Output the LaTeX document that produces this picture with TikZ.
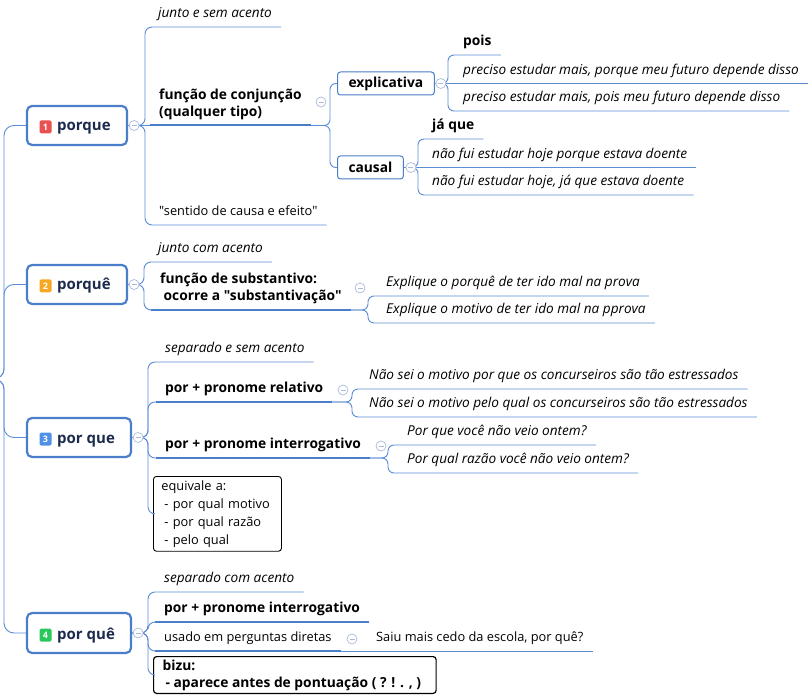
\documentclass[tikz,border=0pt]{standalone}
\usepackage{fontspec}
\setmainfont{Open Sans}[Ligatures=TeXOff]
\usetikzlibrary{calc}
\definecolor{lc}{RGB}{91,141,214}
\definecolor{uc}{RGB}{74,126,201}
\definecolor{bc}{RGB}{74,126,201}
\definecolor{rt}{RGB}{28,42,78}
\definecolor{cc}{RGB}{170,186,218}
\definecolor{kred}{RGB}{232,81,79}
\definecolor{korange}{RGB}{247,168,35}
\definecolor{kblue}{RGB}{80,145,230}
\definecolor{kgreen}{RGB}{40,200,90}
\newcommand\fn{\fontsize{12.8}{17}\selectfont}
\newcommand\fit{\fontsize{13.6}{17}\selectfont\itshape}
\newcommand\fb{\fontsize{13.8}{17}\selectfont\bfseries}
\begin{document}
\begin{tikzpicture}[x=1pt,y=-1pt,
  conn/.style={draw=lc,line width=0.9pt,rounded corners=7pt},
  sconn/.style={conn,rounded corners=6pt},
  thk/.style={draw=uc,line width=2pt},
  topic/.style={anchor=south west,inner xsep=9pt,inner ysep=0pt,text depth=9pt,font=\fn,align=left},
  ittopic/.style={topic,font=\fit},
  bftopic/.style={topic,font=\fb},
  rootbox/.style={draw=bc,line width=2.2pt,rounded corners=5pt,fill=white,minimum height=39pt},
  badge/.style={fill=#1,rounded corners=1.5pt,minimum width=12pt,minimum height=13pt,inner sep=0pt,text=white,font=\fontsize{9}{9}\selectfont\bfseries},
  roottext/.style={anchor=base west,inner sep=0pt,font=\fontsize{15}{15}\selectfont\bfseries,text=rt},
  col/.style={circle,draw=cc,fill=white,line width=0.7pt,minimum size=10pt,inner sep=0pt,
    path picture={\draw[cc,line width=0.7pt] ($(path picture bounding box.center)+(-2.5,0)$) -- ($(path picture bounding box.center)+(2.5,0)$);}},
  subbox/.style={draw=bc,line width=1pt,rounded corners=3pt,fill=white,font=\fb,inner xsep=11pt,minimum height=23pt,anchor=west},
  notebox/.style={draw=black,line width=0.9pt,rounded corners=3pt,fill=white,align=left,anchor=north west,inner xsep=8pt,inner ysep=4pt,font=\fontsize{12.8}{18}\selectfont}
]
\useasboundingbox (0,0) rectangle (811,700);
\fill[white] (0,0) rectangle (811,700);

% ---- root boxes
\node[rootbox,minimum width=100pt] (r1) at (77,125.5) {};
\node[rootbox,minimum width=100pt] (r2) at (77,284.5) {};
\node[rootbox,minimum width=104pt] (r3) at (79,437.5) {};
\node[rootbox,minimum width=104pt,minimum height=40pt] (r4) at (79,633) {};

% ---- main trunk
\coordinate (root) at (-30,379);
\coordinate (tr) at (4,379);
\foreach \r in {r1,r2,r3,r4}
  \draw[conn,rounded corners=10pt] (root) -- (tr) -- (tr |- \r.west) -- (\r.west);

\node[badge=kred] (k1) at (45.5,127) {1};
\node[roottext] (w1) at (57,131) {porque};
\node[badge=korange] (k2) at (45.5,286) {2};
\node[roottext] (w2) at (57,290) {porquê};
\node[badge=kblue] (k3) at (45.5,439) {3};
\node[roottext] (w3) at (57,443) {por que};
\node[badge=kgreen] (k4) at (45.5,635) {4};
\node[roottext] (w4) at (57,639) {por quê};

% ================= branch 1
\coordinate (T1) at (145,0);
\node[ittopic] (n11) at (149,27) {junto e sem acento};
\node[bftopic] (n12) at (150,125.5) {função de conjunção\\(qualquer tipo)};
\node[topic] (n13) at (150,225) {"sentido de causa e efeito"};
\draw[conn] (r1.east) -- (T1 |- r1.east) -- (T1 |- n11.south west) -- (n11.south east);
\draw[conn] (r1.east) -- (n12.south east);
\draw[conn] (r1.east) -- (T1 |- r1.east) -- (T1 |- n13.south west) -- (n13.south east);
\draw[thk] (n12.south west) -- (n12.south east);

\node[subbox] (b1) at (337,83.5) {explicativa};
\node[subbox] (b2) at (337,167.5) {causal};
\coordinate (T12) at (330,0);
\draw[sconn] (n12.south east) -- (T12 |- n12.south east) -- (T12 |- b1.west) -- (b1.west);
\draw[sconn] (n12.south east) -- (T12 |- n12.south east) -- (T12 |- b2.west) -- (b2.west);

\coordinate (T111) at (448,0);
\node[bftopic] (n111) at (454,55) {pois};
\node[ittopic] (n112) at (454,83.5) {preciso estudar mais, porque meu futuro depende disso};
\node[ittopic] (n113) at (454,111) {preciso estudar mais, pois meu futuro depende disso};
\draw[sconn] (b1.east) -- (T111 |- b1.east) -- (T111 |- n111.south west) -- (n111.south east);
\draw[sconn] (b1.east) -- (n112.south east);
\draw[sconn] (b1.east) -- (T111 |- b1.east) -- (T111 |- n113.south west) -- (n113.south east);

\coordinate (T121) at (418,0);
\node[bftopic] (n121) at (423,139) {já que};
\node[ittopic] (n122) at (423,167.5) {não fui estudar hoje porque estava doente};
\node[ittopic] (n123) at (423,195) {não fui estudar hoje, já que estava doente};
\draw[sconn] (b2.east) -- (T121 |- b2.east) -- (T121 |- n121.south west) -- (n121.south east);
\draw[sconn] (b2.east) -- (n122.south east);
\draw[sconn] (b2.east) -- (T121 |- b2.east) -- (T121 |- n123.south west) -- (n123.south east);

\node[col] (c1) at ($(r1.east)+(6,0)$) {};
\node[col] (c12) at (321,102) {};
\node[col] (c111) at ($(b1.east)+(6,0)$) {};
\node[col] (c121) at ($(b2.east)+(7,0)$) {};

% ================= branch 2
\coordinate (T2) at (144,0);
\node[ittopic] (n21) at (149,262) {junto com acento};
\node[bftopic] (n22) at (151,310) {função de substantivo:\\\hspace*{3.5pt}ocorre a "substantivação"};
\draw[conn] (r2.east) -- (T2 |- r2.east) -- (T2 |- n21.south west) -- (n21.south east);
\draw[conn] (r2.east) -- (T2 |- r2.east) -- (T2 |- n22.south west) -- (n22.south east);
\draw[thk] (n22.south west) -- (n22.south east);

\coordinate (T22) at (368,0);
\node[ittopic] (n221) at (377,296) {Explique o porquê de ter ido mal na prova};
\node[ittopic] (n222) at (377,323) {Explique o motivo de ter ido mal na pprova};
\draw[sconn] (n22.south east) -- (T22 |- n22.south east) -- (T22 |- n221.south west) -- (n221.south east);
\draw[sconn] (n22.south east) -- (T22 |- n22.south east) -- (T22 |- n222.south west) -- (n222.south east);

\node[col] (c2) at ($(r2.east)+(6,0)$) {};
\node[col] (c22) at (360,288) {};

% ================= branch 3
\coordinate (T3) at (148,0);
\node[ittopic] (n31) at (156,362) {separado e sem acento};
\node[bftopic] (n32) at (156,402) {por + pronome relativo};
\node[bftopic] (n33) at (156,458) {por + pronome interrogativo};
\node[notebox,text width=112pt] (b34) at (153,476) {equivale a:\\\hspace*{3pt}- por qual motivo\\\hspace*{3pt}- por qual razão\\\hspace*{3pt}- pelo qual};
\draw[conn] (r3.east) -- (T3 |- r3.east) -- (T3 |- n31.south west) -- (n31.south east);
\draw[conn] (r3.east) -- (T3 |- r3.east) -- (T3 |- n32.south west) -- (n32.south east);
\draw[conn] (r3.east) -- (T3 |- r3.east) -- (T3 |- n33.south west) -- (n33.south east);
\draw[conn] (r3.east) -- (T3 |- r3.east) -- (T3 |- b34.west) -- (b34.west);
\draw[thk] (n32.south west) -- (n32.south east);
\draw[thk] (n33.south west) -- (n33.south east);

\coordinate (T32) at (352,0);
\node[ittopic] (n321) at (360,389) {Não sei o motivo por que os concurseiros são tão estressados};
\node[ittopic] (n322) at (360,417) {Não sei o motivo pelo qual os concurseiros são tão estressados};
\draw[sconn] (n32.south east) -- (T32 |- n32.south east) -- (T32 |- n321.south west) -- (n321.south east);
\draw[sconn] (n32.south east) -- (T32 |- n32.south east) -- (T32 |- n322.south west) -- (n322.south east);

\coordinate (T33) at (388,0);
\node[ittopic] (n331) at (398,445) {Por que você não veio ontem?};
\node[ittopic] (n332) at (398,473) {Por qual razão você não veio ontem?};
\draw[sconn] (n33.south east) -- (T33 |- n33.south east) -- (T33 |- n331.south west) -- (n331.south east);
\draw[sconn] (n33.south east) -- (T33 |- n33.south east) -- (T33 |- n332.south west) -- (n332.south east);

\node[col] (c3) at ($(r3.east)+(6,0)$) {};
\node[col] (c32) at (343,390) {};
\node[col] (c33) at (381,446) {};

% ================= branch 4
\coordinate (T4) at (148,0);
\node[ittopic] (n41) at (155,592) {separado com acento};
\node[bftopic] (n42) at (155,622) {por + pronome interrogativo};
\node[topic] (n43) at (155,651) {usado em perguntas diretas};
\node[notebox,font=\fb,line width=1.2pt,inner xsep=9pt,inner ysep=3pt] (b44) at (153,656) {bizu:\\\hspace*{3pt}- aparece antes de pontuação ( ? ! . , )\hspace*{6pt}};
\draw[conn] (r4.east) -- (T4 |- r4.east) -- (T4 |- n41.south west) -- (n41.south east);
\draw[conn] (r4.east) -- (T4 |- r4.east) -- (T4 |- n42.south west) -- (n42.south east);
\draw[conn] (r4.east) -- (T4 |- r4.east) -- (T4 |- n43.south west) -- (n43.south east);
\draw[conn] (r4.east) -- (T4 |- r4.east) -- (T4 |- b44.west) -- (b44.west);
\draw[thk] (n42.south west) -- (n42.south east);
\draw[thk] (n43.south west) -- (n43.south east);

\node[topic] (n431) at (367,651) {Saiu mais cedo da escola, por quê?};
\draw[sconn] (n43.south east) -- (n431.south east);

\node[col] (c4) at ($(r4.east)+(6,0)$) {};
\node[col] (c43) at (352,639) {};
\end{tikzpicture}
\end{document}
